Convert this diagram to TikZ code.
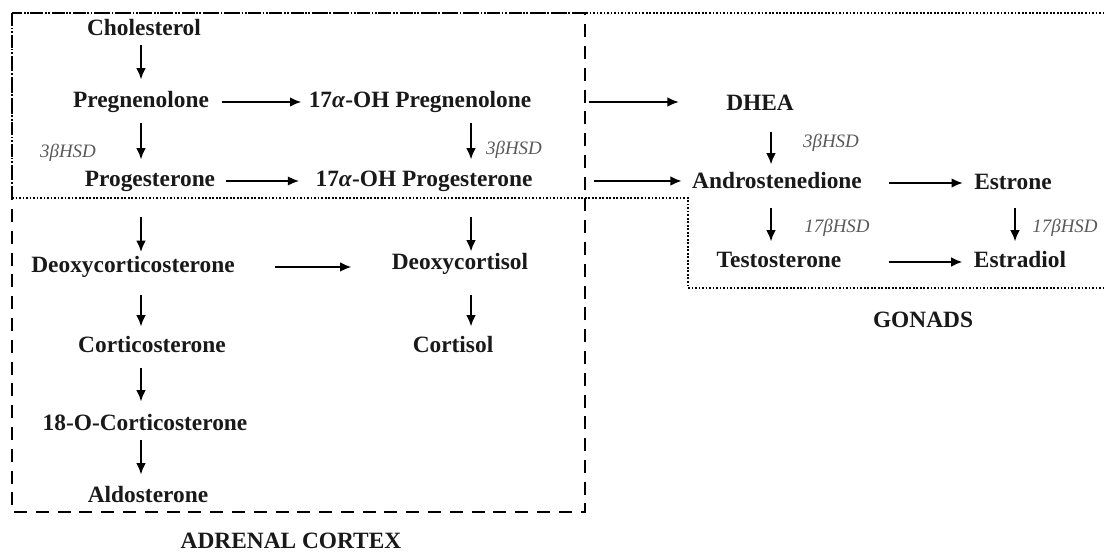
\documentclass[tikz,border=0pt]{standalone}
\usepackage{fontspec}
\setmainfont{Liberation Serif}
\usetikzlibrary{arrows.meta}
\tikzset{
  cmpd/.style={font=\fontsize{13.3}{16}\selectfont\bfseries, text=black!90,
    inner sep=0pt, text height=9pt, text depth=3pt},
  enz/.style={font=\fontsize{10.8}{13}\selectfont\itshape, text=black!65, inner sep=0pt},
  arr/.style={-{Latex[length=6.5pt,width=5.5pt]}, line width=1.25pt},
  adrbox/.style={line width=1.4pt, dash pattern=on 7.4pt off 5pt},
  gonbox/.style={line width=1pt, dash pattern=on 1pt off 1pt}
}
\begin{document}
\begin{tikzpicture}[x=0.02cm, y=-0.02cm]
\useasboundingbox (0,0) rectangle (1104,553);

\draw[adrbox] (12,13) rectangle (585,512);
\draw[gonbox] (12,198) -- (12,13) -- (1104,13);
\draw[gonbox] (12,198) -- (688,198) -- (688,288) -- (1104,288);

\coordinate (colA) at (141,0);
\coordinate (colB) at (471,0);
\coordinate (colC) at (771,0);
\coordinate (colD) at (1015,0);

\node[cmpd] (chol) at (144,30) {Cholesterol};
\node[cmpd] (preg) at (141,102) {Pregnenolone};
\node[cmpd] (pregoh) at (420,102) {17\textit{α}-OH Pregnenolone};
\node[cmpd] (prog) at (150,181) {Progesterone};
\node[cmpd] (progoh) at (424,181) {17\textit{α}-OH Progesterone};
\node[cmpd] (doc) at (133,267) {Deoxycorticosterone};
\node[cmpd] (docl) at (460,264) {Deoxycortisol};
\node[cmpd] (cort) at (152,347) {Corticosterone};
\node[cmpd] (cortl) at (453,347) {Cortisol};
\node[cmpd] (ocort) at (145,425) {18-O-Corticosterone};
\node[cmpd] (aldo) at (148,497) {Aldosterone};
\node[cmpd] (dhea) at (760,105) {DHEA};
\node[cmpd] (andro) at (777,183) {Androstenedione};
\node[cmpd] (estrone) at (1013,184) {Estrone};
\node[cmpd] (testo) at (779,262) {Testosterone};
\node[cmpd] (estradiol) at (1020,262) {Estradiol};
\node[cmpd] (lbladr) at (291,543) {ADRENAL CORTEX};
\node[cmpd] (lblgon) at (923,322) {GONADS};

\node[enz] (hsdA) at (68,153) {3βHSD};
\node[enz] (hsdB) at (514,150) {3βHSD};
\node[enz] (hsdC) at (831,143) {3βHSD};
\node[enz] (hsdD) at (837,228) {17βHSD};
\node[enz] (hsdE) at (1065,228) {17βHSD};

\draw[arr, shorten <=0.09cm, shorten >=0.23cm] (chol.south -| colA) -- (preg.north -| colA);
\draw[arr, shorten <=0.21cm, shorten >=0.21cm] (preg.south -| colA) -- (prog.north -| colA);
\draw[arr, shorten <=0.21cm, shorten >=0.21cm] (pregoh.south -| colB) -- (progoh.north -| colB);
\draw[arr, shorten <=0.51cm, shorten >=0.08cm] (prog.south -| colA) -- (doc.north -| colA);
\draw[arr, shorten <=0.51cm, shorten >=0.03cm] (progoh.south -| colB) -- (docl.north -| colB);
\draw[arr, shorten <=0.35cm, shorten >=0.19cm] (doc.south -| colA) -- (cort.north -| colA);
\draw[arr, shorten <=0.41cm, shorten >=0.19cm] (docl.south -| colB) -- (cortl.north -| colB);
\draw[arr, shorten <=0.21cm, shorten >=0.25cm] (cort.south -| colA) -- (ocort.north -| colA);
\draw[arr, shorten <=0.09cm, shorten >=0.23cm] (ocort.south -| colA) -- (aldo.north -| colA);
\draw[arr, shorten <=0.33cm, shorten >=0.15cm] (dhea.south -| colC) -- (andro.north -| colC);
\draw[arr, shorten <=0.29cm, shorten >=0.19cm] (andro.south -| colC) -- (testo.north -| colC);
\draw[arr, shorten <=0.27cm, shorten >=0.19cm] (estrone.south -| colD) -- (estradiol.north -| colD);

\draw[arr, shorten <=0.26cm, shorten >=0.14cm] (preg.east) -- (preg.east -| pregoh.west);
\draw[arr, shorten <=0.22cm, shorten >=0.32cm] (prog.east) -- (prog.east -| progoh.west);
\draw[arr, shorten <=1.14cm, shorten >=0.94cm] (pregoh.east) -- (pregoh.east -| dhea.west);
\draw[arr, shorten <=1.22cm, shorten >=0.20cm] (progoh.east) -- (progoh.east -| andro.west);
\draw[arr, shorten <=0.54cm, shorten >=0.22cm] (andro.east) -- (andro.east -| estrone.west);
\draw[arr, shorten <=0.94cm, shorten >=0.22cm] (testo.east) -- (testo.east -| estradiol.west);
\draw[arr, shorten <=0.80cm, shorten >=0.80cm] (doc.east) -- (doc.east -| docl.west);
\end{tikzpicture}
\end{document}
